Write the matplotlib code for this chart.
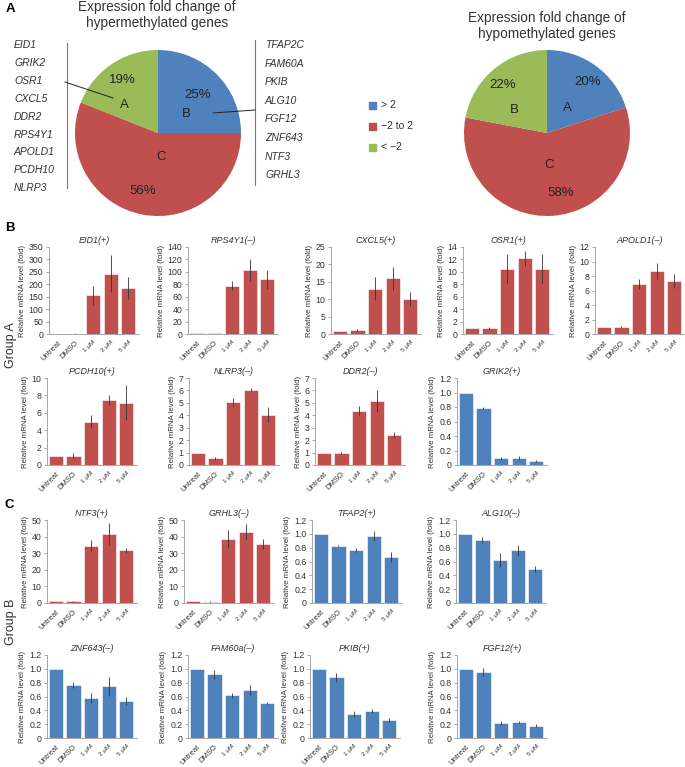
import matplotlib
matplotlib.use("Agg")
import matplotlib.pyplot as plt
import numpy as np

plt.rcParams['font.family'] = ['Liberation Sans', 'DejaVu Sans']

W, H = 685, 767
BLUE = "#4F81BD"
RED = "#C0504D"
GREEN = "#9BBB59"

# pie data
hyper_pct = [25, 56, 19]
hypo_pct = [20, 58, 22]
legend_labels = ["> 2", "\u22122 to 2", "< \u22122"]
groupA_genes = ["EID1", "GRIK2", "OSR1", "CXCL5", "DDR2", "RPS4Y1", "APOLD1", "PCDH10", "NLRP3"]
groupB_genes = ["TFAP2C", "FAM60A", "PKIB", "ALG10", "FGF12", "ZNF643", "NTF3", "GRHL3"]

# bar data
conditions = ["Untreat", "DMSO", "1 \u03bcM", "2 \u03bcM", "5 \u03bcM"]

eid1 = [1, 2, 155, 242, 185]
eid1_err = [0, 1, 38, 75, 45]
rps4y1 = [1, 1.5, 78, 103, 88]
rps4y1_err = [0, 0.5, 7, 17, 15]
cxcl5 = [1, 1.1, 13.0, 16.0, 10.1]
cxcl5_err = [0, 0.3, 3.3, 3.3, 2.0]
osr1 = [1, 1, 10.5, 12.2, 10.5]
osr1_err = [0, 0.15, 2.3, 1.2, 2.3]
apold1 = [1, 1, 6.9, 8.7, 7.3]
apold1_err = [0, 0.12, 0.75, 1.15, 1.0]
pcdh10 = [1, 1.07, 4.96, 7.45, 7.14]
pcdh10_err = [0, 0.3, 0.75, 0.55, 2.0]
nlrp3 = [1, 0.56, 5.03, 6.07, 4.06]
nlrp3_err = [0, 0.12, 0.4, 0.15, 0.6]
ddr2 = [1, 1, 4.36, 5.13, 2.43]
ddr2_err = [0, 0.08, 0.35, 0.9, 0.25]
grik2 = [1, 0.79, 0.09, 0.1, 0.055]
grik2_err = [0, 0.015, 0.015, 0.03, 0.01]

ntf3 = [1, 1, 34.4, 41.4, 31.8]
ntf3_err = [0, 0.3, 3.3, 6.5, 1.4]
grhl3 = [1, 0.8, 38.4, 43.0, 35.6]
grhl3_err = [0, 0.3, 5.5, 4.5, 3.0]
tfap2 = [1, 0.83, 0.77, 0.97, 0.67]
tfap2_err = [0, 0.01, 0.03, 0.07, 0.07]
alg10 = [1, 0.91, 0.62, 0.76, 0.49]
alg10_err = [0, 0.04, 0.1, 0.08, 0.04]
znf643 = [1, 0.77, 0.58, 0.745, 0.54]
znf643_err = [0, 0.04, 0.07, 0.14, 0.06]
fam60a = [1, 0.92, 0.615, 0.69, 0.505]
fam60a_err = [0, 0.06, 0.04, 0.07, 0.02]
pkib = [1, 0.875, 0.35, 0.385, 0.265]
pkib_err = [0, 0.06, 0.04, 0.03, 0.03]
fgf12 = [1, 0.955, 0.22, 0.23, 0.18]
fgf12_err = [0, 0.06, 0.03, 0.015, 0.025]

# title, values, errors, ymax, ystep, colour
rows = [
    [("EID1(+)", eid1, eid1_err, 350, 50, RED),
     ("RPS4Y1(\u2013)", rps4y1, rps4y1_err, 140, 20, RED),
     ("CXCL5(+)", cxcl5, cxcl5_err, 25, 5, RED),
     ("OSR1(+)", osr1, osr1_err, 14, 2, RED),
     ("APOLD1(\u2013)", apold1, apold1_err, 12, 2, RED)],
    [("PCDH10(+)", pcdh10, pcdh10_err, 10, 2, RED),
     ("NLRP3(\u2013)", nlrp3, nlrp3_err, 7, 1, RED),
     ("DDR2(\u2013)", ddr2, ddr2_err, 7, 1, RED),
     ("GRIK2(+)", grik2, grik2_err, 1.2, 0.2, BLUE)],
    [("NTF3(+)", ntf3, ntf3_err, 50, 10, RED),
     ("GRHL3(\u2013)", grhl3, grhl3_err, 50, 10, RED),
     ("TFAP2(+)", tfap2, tfap2_err, 1.2, 0.2, BLUE),
     ("ALG10(\u2013)", alg10, alg10_err, 1.2, 0.2, BLUE)],
    [("ZNF643(\u2013)", znf643, znf643_err, 1.2, 0.2, BLUE),
     ("FAM60a(\u2013)", fam60a, fam60a_err, 1.2, 0.2, BLUE),
     ("PKIB(+)", pkib, pkib_err, 1.2, 0.2, BLUE),
     ("FGF12(+)", fgf12, fgf12_err, 1.2, 0.2, BLUE)],
]

# layout in pixels
row_lefts = [[49, 188, 331, 463, 595], [47, 189, 315, 457], [47, 184, 312, 456], [47, 188, 310, 457]]
row_tops = [247, 378, 520, 655]
row_bottoms = [334, 465, 603, 738]
axw = 90

fig = plt.figure(figsize=(W / 100, H / 100), dpi=100)


def box(l, t, w, h):
    return [l / W, 1 - (t + h) / H, w / W, h / H]


def fmt(v, step):
    if v == 0:
        return "0"
    if step < 1:
        return f"{v:.1f}"
    return f"{int(round(v))}"


x = np.arange(len(conditions))
for r, charts in enumerate(rows):
    for c, (title, vals, errs, ymax, step, col) in enumerate(charts):
        l = row_lefts[r][c]
        ax = fig.add_axes(box(l, row_tops[r], axw, row_bottoms[r] - row_tops[r]))
        ax.bar(x, vals, width=0.8, color=col, edgecolor="white", linewidth=0.4)
        ax.errorbar(x, vals, yerr=errs, fmt="none", ecolor="#333333", elinewidth=0.6, capsize=0)
        ax.set_xlim(-0.5, 4.6)
        ax.set_ylim(0, ymax)
        ticks = np.arange(0, ymax + step / 2, step)
        ax.set_yticks(ticks)
        ax.set_yticklabels([fmt(t, step) for t in ticks], fontsize=6.3, color="#333333")
        ax.set_xticks(x)
        labs = ax.set_xticklabels(conditions, rotation=45, ha="right", rotation_mode="anchor",
                                  fontsize=5.5, color="#333333")
        for lb in labs[2:]:
            lb.set_fontsize(4.6)
        ax.tick_params(axis="x", length=0, pad=4)
        ax.tick_params(axis="y", length=2, width=0.5, color="#888888", pad=2)
        for s in ["top", "right"]:
            ax.spines[s].set_visible(False)
        for s in ["left", "bottom"]:
            ax.spines[s].set_color("#999999")
            ax.spines[s].set_linewidth(0.6)
        ax.set_ylabel("Relative mRNA level (fold)", fontsize=5.7, color="#333333", labelpad=2)
        ax.set_title(title, fontsize=6.5, style="italic", color="#333333", pad=3)

# pies
pie_specs = [
    (158, 133, 83, hyper_pct,
     [("19%", -0.43, 0.64), ("A", -0.40, 0.34), ("25%", 0.48, 0.46), ("B", 0.34, 0.23),
      ("C", 0.04, -0.29), ("56%", -0.18, -0.70)]),
    (547, 133, 83, hypo_pct,
     [("20%", 0.49, 0.61), ("A", 0.24, 0.30), ("22%", -0.53, 0.58), ("B", -0.39, 0.28),
      ("C", 0.02, -0.39), ("58%", 0.17, -0.72)]),
]
for cx, cy, rad, pct, labels in pie_specs:
    pax = fig.add_axes(box(cx - rad, cy - rad, 2 * rad, 2 * rad))
    pax.pie(pct, colors=[BLUE, RED, GREEN], startangle=90, counterclock=False,
            wedgeprops=dict(linewidth=0))
    pax.set_xlim(-1, 1)
    pax.set_ylim(-1, 1)
    pax.set_aspect("equal")
    pax.axis("off")
    for txt, tx, ty in labels:
        pax.text(tx, ty, txt, ha="center", va="center", fontsize=9.5, color="#222222")

# overlay for free text in pixel coords
ov = fig.add_axes([0, 0, 1, 1], zorder=10)
ov.set_xlim(0, W)
ov.set_ylim(H, 0)
ov.axis("off")
ov.patch.set_alpha(0)

ov.text(157, 15, "Expression fold change of\nhypermethylated genes", ha="center", va="center",
        fontsize=9.8, color="#333333", linespacing=1.1)
ov.text(547, 26, "Expression fold change of\nhypomethylated genes", ha="center", va="center",
        fontsize=9.8, color="#333333", linespacing=1.1)

for i, g in enumerate(groupA_genes):
    ov.text(14, 45 + i * 17.9, g, ha="left", va="center", fontsize=7.5, style="italic", color="#333333")
for i, g in enumerate(groupB_genes):
    ov.text(265, 45 + i * 18.6, g, ha="left", va="center", fontsize=7.5, style="italic", color="#333333")
ov.plot([67, 67], [43, 188], color="#777777", lw=0.8)
ov.plot([255, 255], [40, 185], color="#777777", lw=0.8)
ov.plot([65, 113], [82, 98], color="#222222", lw=0.7)
ov.plot([213, 255], [113, 110], color="#222222", lw=0.7)

for i, (lab, col) in enumerate(zip(legend_labels, [BLUE, RED, GREEN])):
    yy = 105 + i * 21
    ov.add_patch(plt.Rectangle((369, yy - 3.5), 7, 7, color=col))
    ov.text(381, yy, lab, ha="left", va="center", fontsize=7.5, color="#333333")

ov.text(6, 9, "A", fontsize=9.5, fontweight="bold", ha="left", va="center")
ov.text(5, 228, "B", fontsize=9.5, fontweight="bold", ha="left", va="center")
ov.text(5, 505, "C", fontsize=9.5, fontweight="bold", ha="left", va="center")
ov.text(11, 345, "Group A", rotation=90, fontsize=9, ha="center", va="center", color="#333333")
ov.text(11, 622, "Group B", rotation=90, fontsize=9, ha="center", va="center", color="#333333")

fig.savefig("out.png", dpi=100)
